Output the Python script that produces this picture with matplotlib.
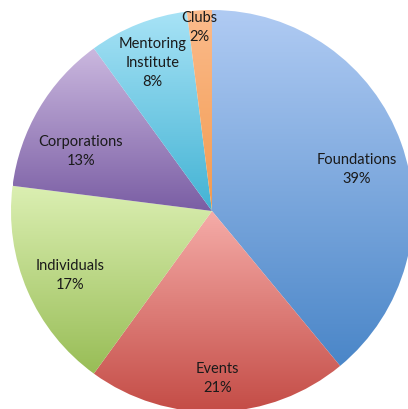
import numpy as np
import matplotlib
matplotlib.use("Agg")
import matplotlib.pyplot as plt
from matplotlib.colors import to_rgb

categories = ["Foundations", "Events", "Individuals", "Corporations", "Mentoring\nInstitute", "Clubs"]
values = [39, 21, 17, 13, 8, 2]
pct_labels = ["39%", "21%", "17%", "13%", "8%", "2%"]

top_colors = ["#b0cbf3", "#f5aca8", "#dbefb2", "#cbb8df", "#a8e3f6", "#fbbb8c"]
bot_colors = ["#4a86c8", "#c44c46", "#98bd56", "#7a5ea4", "#43b3d4", "#f39a4e"]
label_dist = [0.75, 0.83, 0.775, 0.72, 0.80, 0.92]
label_angle_off = [-3.6, 0.0, 0.8, 5.7, 0.2, 0.4]

plt.rcParams['font.family'] = ['Lato', 'DejaVu Sans']

fig = plt.figure(figsize=(4.08, 4.10), dpi=100)
cx, cy, r = 212, 212, 201
W, H = 408, 410
ax = fig.add_axes([(cx - r) / W, (H - cy - r) / H, 2 * r / W, 2 * r / H])
ax.set_xlim(-1, 1)
ax.set_ylim(-1, 1)
ax.set_aspect('equal')
ax.axis('off')

wedges, _ = ax.pie(values, startangle=90, counterclock=False, radius=1,
                   colors=["none"] * len(values),
                   wedgeprops=dict(linewidth=0))

for w, tc, bc, ld, ao, cat, pl in zip(wedges, top_colors, bot_colors, label_dist,
                                      label_angle_off, categories, pct_labels):
    t1, t2 = w.theta1, w.theta2
    th = np.radians(np.linspace(t1, t2, 200))
    xs = np.concatenate([[0], np.cos(th)])
    ys = np.concatenate([[0], np.sin(th)])
    xmin, xmax, ymin, ymax = xs.min(), xs.max(), ys.min(), ys.max()
    n = 256
    f = np.linspace(0, 1, n)[:, None]
    c1 = np.array(to_rgb(tc)); c2 = np.array(to_rgb(bc))
    grad = (c1[None, :] * (1 - f) + c2[None, :] * f)[:, None, :]
    im = ax.imshow(grad, extent=[xmin, xmax, ymin, ymax], origin='upper',
                   aspect='auto', interpolation='bilinear', zorder=1)
    im.set_clip_path(w)
    mid = np.radians((t1 + t2) / 2 + ao)
    ax.text(ld * np.cos(mid), ld * np.sin(mid), cat + "\n" + pl,
            ha='center', va='center', fontsize=10.5, color='#1a1a1a',
            linespacing=1.45, zorder=3)

ax.set_xlim(-1, 1)
ax.set_ylim(-1, 1)
fig.savefig("out.png", dpi=100, facecolor='white')
